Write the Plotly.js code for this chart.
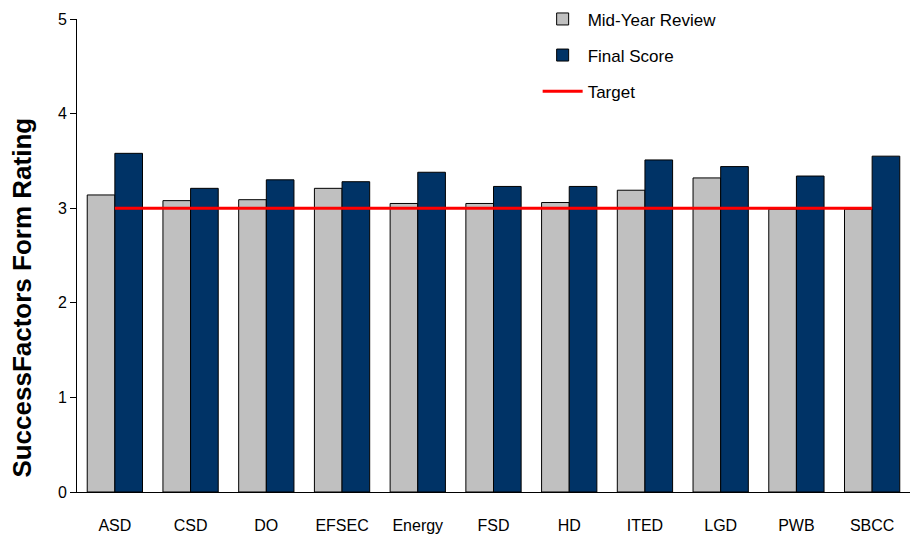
<!DOCTYPE html>
<html>
<head>
<meta charset="utf-8">
<script src="https://cdn.plot.ly/plotly-3.0.1.min.js"></script>
<style>html,body{margin:0;padding:0;background:#fff;}#chart{width:912px;height:537px;}</style>
</head>
<body>
<div id="chart"></div>
<script>
const categories = ["ASD","CSD","DO","EFSEC","Energy","FSD","HD","ITED","LGD","PWB","SBCC"];
const midYear = [3.14,3.08,3.09,3.21,3.05,3.05,3.06,3.19,3.32,2.99,2.99];
const finalScore = [3.58,3.21,3.30,3.28,3.38,3.23,3.23,3.51,3.44,3.34,3.55];
const target = [3,3,3,3,3,3,3,3,3,3,3];
const yTicks = [0,1,2,3,4,5];

const font = "Liberation Sans, Arial, sans-serif";

const traces = [
  {type:"bar", name:"Mid-Year Review", x:categories, y:midYear, legendgroup:"a",
   marker:{color:"#C0C0C0", line:{color:"#000", width:1}}},
  {type:"bar", name:"Final Score", x:categories, y:finalScore, legendgroup:"b",
   marker:{color:"#003366", line:{color:"#000", width:1}}},
  {type:"scatter", mode:"lines", name:"Target", x:categories, y:target, legendgroup:"c",
   line:{color:"#FF0000", width:3}}
];

const layout = {
  width:912, height:537,
  margin:{l:77, r:2, t:18, b:45},
  paper_bgcolor:"#fff", plot_bgcolor:"#fff",
  font:{family:font, size:16, color:"#000"},
  barmode:"group", bargap:0.27, bargroupgap:0,
  showlegend:true,
  legend:{x:0.553, y:1.035, xanchor:"left", yanchor:"top", bgcolor:"rgba(0,0,0,0)",
          font:{family:font, size:17, color:"#000"}, tracegroupgap:11, itemwidth:40},
  xaxis:{showline:true, linecolor:"#000", linewidth:1, ticks:"", showgrid:false,
         tickfont:{family:font, size:16}, ticklabelstandoff:19, fixedrange:true},
  yaxis:{range:[0,5], tickvals:yTicks, showline:true, linecolor:"#000", linewidth:1,
         ticks:"outside", ticklen:6, tickcolor:"#000", showgrid:false, zeroline:false,
         tickfont:{family:font, size:16}},
  annotations:[{text:"<b>SuccessFactors Form Rating</b>", textangle:-90, xref:"paper", yref:"paper",
    x:-0.066, y:0.411, xanchor:"center", yanchor:"middle", showarrow:false,
    font:{family:font, size:26, color:"#000"}}]
};

Plotly.newPlot("chart", traces, layout, {displayModeBar:false, staticPlot:true});
</script>
</body>
</html>
